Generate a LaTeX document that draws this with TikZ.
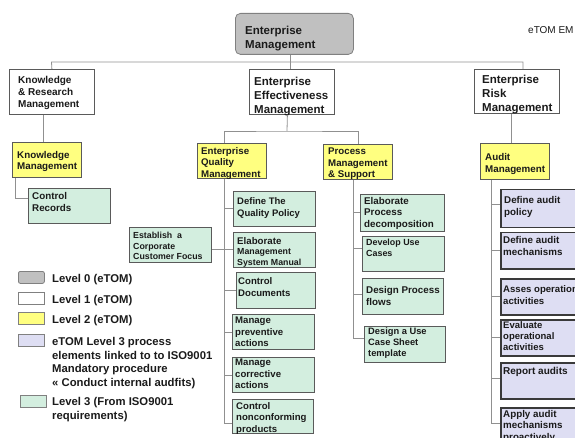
\documentclass[tikz,border=0pt]{standalone}
\usepackage{fontspec}
\setmainfont{Liberation Sans}

\definecolor{lvzero}{HTML}{C0C0C0}
\definecolor{lvyellow}{HTML}{FFFF80}
\definecolor{lvgreen}{HTML}{D3EEDF}
\definecolor{lvpurple}{HTML}{DEDEF3}
\definecolor{edgegray}{HTML}{5A5A5A}
\definecolor{linegray}{HTML}{909090}
\definecolor{darkedge}{HTML}{3A3A3A}
\definecolor{inkblack}{HTML}{1A1A1A}

% box of a given style, name, top-left corner, width and height
\newcommand\mkbox[6]{\node[#1, anchor=north west, inner sep=0pt,
  minimum width=#5pt, minimum height=#6pt] (#2) at (#3,#4) {};}

\tikzset{
  conn/.style={draw=linegray, line width=0.8pt},
  lvlzero/.style={draw=gray, fill=lvzero, rounded corners=5pt, line width=0.8pt},
  lvlone/.style={draw=edgegray, fill=white, line width=0.8pt},
  lvltwo/.style={draw=edgegray, fill=lvyellow, line width=0.8pt},
  lvlthree/.style={draw=edgegray, fill=lvgreen, line width=0.8pt},
  etomthree/.style={draw=darkedge, fill=lvpurple, line width=1.5pt},
  swatch/.style={draw=gray, line width=0.8pt},
  lbl/.style={anchor=north west, inner sep=0pt, align=left, text=inkblack,
    font=\bfseries\fontsize{9.7}{11.5}\selectfont},
  biglbl/.style={lbl, font=\bfseries\fontsize{11.5}{14}\selectfont},
  leglbl/.style={lbl, font=\bfseries\fontsize{11.3}{13.7}\selectfont},
}

\begin{document}
\begin{tikzpicture}[x=1pt, y=-1pt]
\useasboundingbox (0,0) rectangle (575,438);
\clip (0,0) rectangle (575,438);

% ---- level 0 ----
\mkbox{lvlzero}{em}{235}{13}{118}{41}
\node[biglbl] (em-t) at (245,26) {Enterprise\\Management};
\node[anchor=north west, inner sep=0pt, text=inkblack,
  font=\fontsize{10}{12}\selectfont] (title) at (528,26) {eTOM EM};

% ---- level 1 ----
\mkbox{lvlone}{krm}{9}{69}{85}{45}
\node[lbl, font=\bfseries\fontsize{10}{12}\selectfont] (krm-t) at (18,76)
  {Knowledge\\\& Research\\Management};
\mkbox{lvlone}{eem}{249}{69}{85}{45}
\node[biglbl] (eem-t) at (254,77) {Enterprise\\Effectiveness\\Management};
\mkbox{lvlone}{erm}{474}{69}{85}{44}
\node[biglbl] (erm-t) at (482,75) {Enterprise\\Risk\\Management};

% ---- level 2 ----
\mkbox{lvltwo}{km}{12}{142}{69}{35}
\node[lbl, font=\bfseries\fontsize{9.8}{11}\selectfont] (km-t) at (17,151)
  {Knowledge\\Management};
\mkbox{lvltwo}{eqm}{197}{143}{69}{35}
\node[lbl] (eqm-t) at (201,147) {Enterprise\\Quality\\Management};
\mkbox{lvltwo}{pms}{323}{144}{69}{35}
\node[lbl] (pms-t) at (328,148) {Process\\Management\\\& Support};
\mkbox{lvltwo}{am}{480}{143}{69}{36}
\node[lbl, font=\bfseries\fontsize{9.8}{12}\selectfont] (am-t) at (485,153)
  {Audit\\Management};

% ---- level 3 (ISO9001 requirements) ----
\mkbox{lvlthree}{cr}{28}{188}{82}{35}
\node[lbl, font=\bfseries\fontsize{9.8}{12}\selectfont] (cr-t) at (32,192)
  {Control\\Records};

\mkbox{lvlthree}{dqp}{233}{191}{82}{35}
\node[lbl, font=\bfseries\fontsize{9.5}{12}\selectfont] (dqp-t) at (237,197)
  {Define The\\Quality Policy};
\mkbox{lvlthree}{emsm}{233}{232}{82}{35}
\node[lbl, font=\bfseries\fontsize{8.8}{10.5}\selectfont] (emsm-t) at (237,237)
  {{\fontsize{9.7}{10.5}\selectfont Elaborate}\\Management\\System Manual};
\mkbox{lvlthree}{est}{129}{227}{82}{35}
\node[lbl, font=\bfseries\fontsize{8.8}{10.5}\selectfont] (est-t) at (133,232)
  {Establish~ a\\Corporate\\Customer Focus};
\mkbox{lvlthree}{cd}{236}{272}{79}{36}
\node[lbl, font=\bfseries\fontsize{9.6}{12}\selectfont] (cd-t) at (238,277)
  {Control\\Documents};
\mkbox{lvlthree}{mpa}{232}{314}{82}{35}
\node[lbl, font=\bfseries\fontsize{9.6}{11.5}\selectfont] (mpa-t) at (235,317)
  {Manage\\preventive\\actions};
\mkbox{lvlthree}{mca}{232}{357}{82}{35}
\node[lbl, font=\bfseries\fontsize{9.6}{11.5}\selectfont] (mca-t) at (235,359)
  {Manage\\corrective\\actions};
\mkbox{lvlthree}{cnp}{232}{399}{81}{34}
\node[lbl, font=\bfseries\fontsize{9.6}{11.5}\selectfont] (cnp-t) at (236,402)
  {Control\\nonconforming\\products};

\mkbox{lvlthree}{epd}{360}{194}{84}{37}
\node[lbl, font=\bfseries\fontsize{9.8}{11.5}\selectfont] (epd-t) at (364,197)
  {Elaborate\\Process\\decomposition};
\mkbox{lvlthree}{duc}{362}{236}{82}{35}
\node[lbl, font=\bfseries\fontsize{8.9}{11}\selectfont] (duc-t) at (366,239)
  {Develop Use\\Cases};
\mkbox{lvlthree}{dpf}{362}{278}{81}{36}
\node[lbl, font=\bfseries\fontsize{9.8}{12}\selectfont] (dpf-t) at (366,286)
  {Design Process\\flows};
\mkbox{lvlthree}{ducst}{364}{326}{81}{36}
\node[lbl, font=\bfseries\fontsize{9.3}{11}\selectfont] (ducst-t) at (368,328)
  {Design a Use\\Case Sheet\\template};

% ---- eTOM level 3 (audit) ----
\mkbox{etomthree}{dap}{500}{189}{95}{38}
\node[lbl, font=\bfseries\fontsize{9.8}{12}\selectfont] (dap-t) at (504,196)
  {Define audit\\policy};
\mkbox{etomthree}{dam}{500}{232}{95}{36}
\node[lbl, font=\bfseries\fontsize{9.8}{12}\selectfont] (dam-t) at (503,236)
  {Define audit\\mechanisms};
\mkbox{etomthree}{aoa}{500}{278}{95}{36}
\node[lbl, font=\bfseries\fontsize{9.6}{12}\selectfont] (aoa-t) at (503,285)
  {Asses operational\\activities};
\mkbox{etomthree}{eoa}{500}{319}{95}{36}
\node[lbl, font=\bfseries\fontsize{9.5}{11}\selectfont] (eoa-t) at (503,321)
  {Evaluate\\operational\\activities};
\mkbox{etomthree}{ra}{500}{362}{95}{36}
\node[lbl, font=\bfseries\fontsize{10}{12}\selectfont] (ra-t) at (503,367)
  {Report audits};
\mkbox{etomthree}{aamp}{500}{407}{95}{40}
\node[lbl, font=\bfseries\fontsize{9.8}{11.5}\selectfont] (aamp-t) at (503,410)
  {Apply audit\\mechanisms\\proactively};

% ---- connectors ----
\coordinate (busl) at (51.5,62);
\draw[conn] (krm.north) -- (busl) -| ([xshift=6pt]erm.north);
\draw[conn] ([xshift=-4pt]em.south) -- ([xshift=-4pt]em.south |- eem.north);

\draw[conn] ([xshift=-8.5pt]krm.south) -- ([xshift=-8.5pt]krm.south |- km.north);
\draw[conn] ([xshift=3pt]km.south west) |- ([yshift=-10pt]cr.north west);

\coordinate (effbus) at (287,131);
\draw[conn] ([xshift=-4.5pt]eem.south) -- (effbus);
\draw[conn] ([xshift=-7.5pt]eqm.north) |- (effbus) -| (pms.north);

\coordinate (qsp) at ([xshift=-7.5pt]eqm.south);
\draw[conn] (qsp) |- (dqp.west);
\draw[conn] (qsp) |- (emsm.west);
\draw[conn] (qsp) |- (cd.west);
\draw[conn] (qsp) |- (mpa.west);
\draw[conn] (qsp) |- (mca.west);
\draw[conn] (qsp) |- ([yshift=10pt]cnp.south west);
\draw[conn] (est.east |- emsm.west) -- (emsm.west);

\coordinate (psp) at ([xshift=-5pt]pms.south);
\draw[conn] (psp) |- (epd.west);
\draw[conn] (psp) |- ([yshift=-12pt]duc.north west);
\draw[conn] (psp) |- ([yshift=-16pt]dpf.north west);
\draw[conn] (psp) |- ([yshift=-12pt]ducst.north west);

\draw[conn] ([xshift=-5.5pt]erm.south) -- ([xshift=-5.5pt]erm.south |- am.north);
\coordinate (asp) at ([xshift=11pt]am.south west);
\draw[conn] (asp) |- ([yshift=-15pt]dap.north west);
\draw[conn] (asp) |- (dam.west);
\draw[conn] (asp) |- (aoa.west);
\draw[conn] (asp) |- (eoa.west);
\draw[conn] (asp) |- ([yshift=-16pt]ra.north west);
\draw[conn] (asp) |- ([yshift=-16pt]aamp.north west);

% ---- legend ----
\mkbox{swatch, fill=lvzero, rounded corners=2pt}{sw0}{18}{271}{26}{12}
\mkbox{swatch, fill=white}{sw1}{18}{292}{26}{12}
\mkbox{swatch, fill=lvyellow}{sw2}{18}{312}{26}{12}
\mkbox{swatch, fill=lvpurple}{sw3}{18}{334}{26}{12}
\mkbox{swatch, fill=lvgreen}{sw4}{20}{395}{26}{12}
\node[leglbl] (lg0) at (52,274) {Level 0 (eTOM)};
\node[leglbl] (lg1) at (52,295) {Level 1 (eTOM)};
\node[leglbl] (lg2) at (52,315) {Level 2 (eTOM)};
\node[leglbl] (lg3) at (52,337) {eTOM Level 3 process\\elements linked to to ISO9001\\Mandatory procedure\\« Conduct internal audfits)};
\node[leglbl] (lg4) at (52,397) {Level 3 (From ISO9001\\requirements)};
\end{tikzpicture}
\end{document}
